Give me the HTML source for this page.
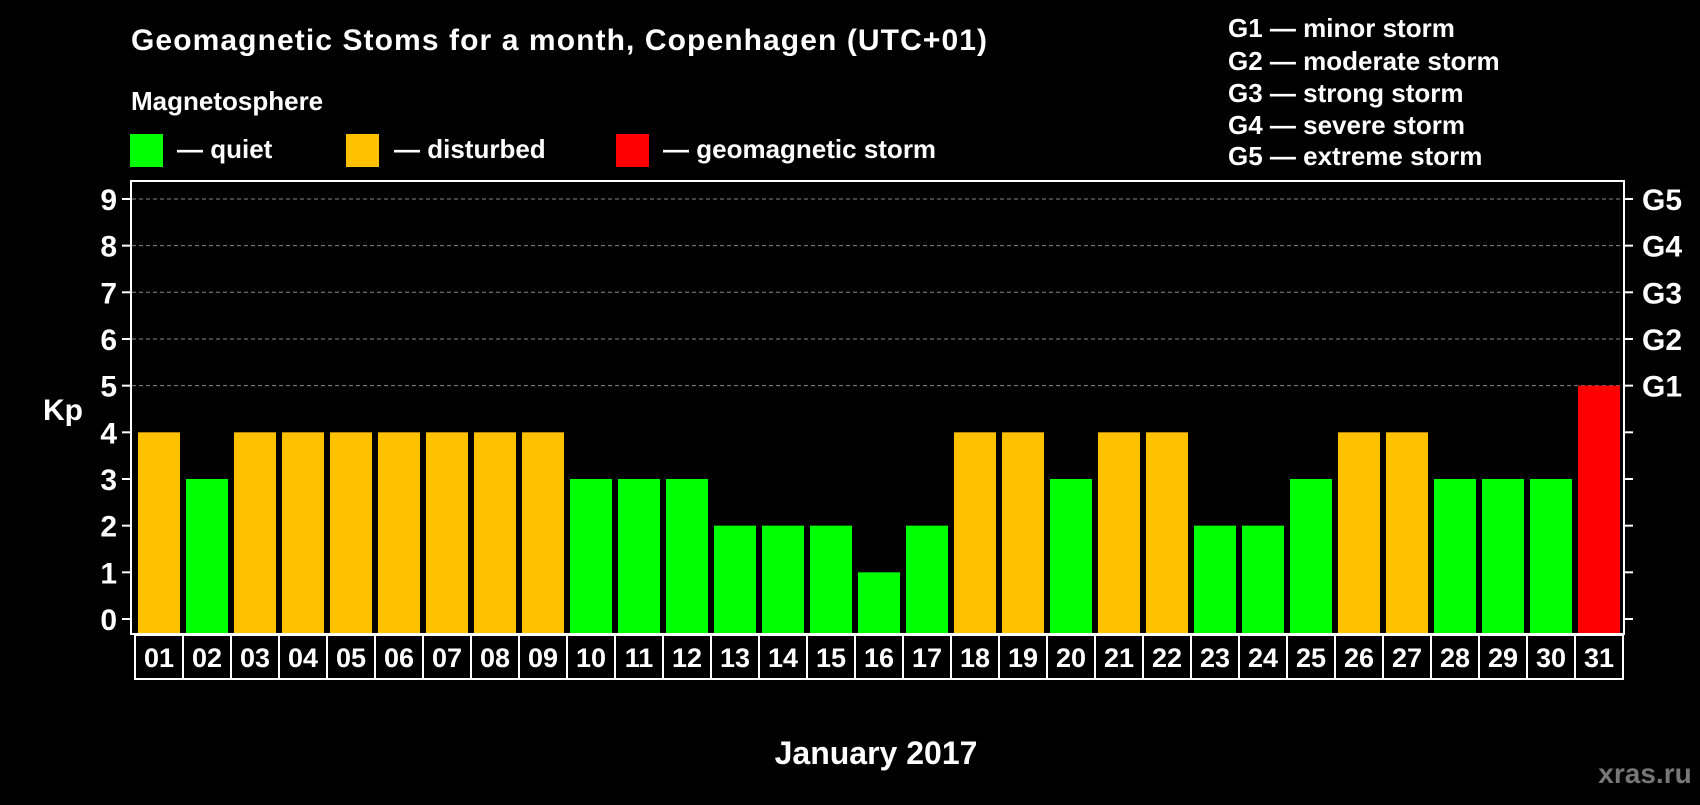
<!DOCTYPE html>
<html><head><meta charset="utf-8"><style>
body{margin:0;background:#000;width:1700px;height:800px;overflow:hidden;font-family:"Liberation Sans",sans-serif;font-weight:bold;color:#fff}
svg text{font-family:"Liberation Sans",sans-serif;font-weight:bold}
</style></head><body>
<svg width="1700" height="800">
<text x="131" y="50" font-size="30" fill="#fff" textLength="856">Geomagnetic Stoms for a month, Copenhagen (UTC+01)</text>
<text x="131" y="110" font-size="26" fill="#fff">Magnetosphere</text>
<rect x="130" y="134" width="33" height="33" fill="#00ff00"/>
<text x="177" y="158" font-size="26" fill="#fff">— quiet</text>
<rect x="346" y="134" width="33" height="33" fill="#ffc000"/>
<text x="394" y="158" font-size="26" fill="#fff">— disturbed</text>
<rect x="616" y="134" width="33" height="33" fill="#ff0000"/>
<text x="663" y="158" font-size="26" fill="#fff">— geomagnetic storm</text>
<g font-size="26" fill="#fff">
<text x="1228" y="37">G1 — minor storm</text>
<text x="1228" y="70">G2 — moderate storm</text>
<text x="1228" y="102">G3 — strong storm</text>
<text x="1228" y="134">G4 — severe storm</text>
<text x="1228" y="165">G5 — extreme storm</text>
</g>
<g id="grid"></g>
<g id="bars"></g>
<rect x="131" y="181" width="1493" height="453" fill="none" stroke="#fff" stroke-width="2"/>
<g id="axes"></g>
<text x="63" y="412" font-size="30" fill="#fff" text-anchor="middle" dominant-baseline="middle">Kp</text>
<text x="876" y="764" font-size="32" fill="#fff" text-anchor="middle">January 2017</text>
<text x="1645" y="783" font-size="28" fill="#777" text-anchor="middle">xras.ru</text>
</svg>
<script>
const days=["01","02","03","04","05","06","07","08","09","10","11","12","13","14","15","16","17","18","19","20","21","22","23","24","25","26","27","28","29","30","31"];
const kpValues=[4,3,4,4,4,4,4,4,4,3,3,3,2,2,2,1,2,4,4,3,4,4,2,2,3,4,4,3,3,3,5];
const yTicks=[0,1,2,3,4,5,6,7,8,9];
const gLabels=["G1","G2","G3","G4","G5"];
const NS="http://www.w3.org/2000/svg";
function y(v){return 619-v*46.67;}
function xc(i){return 159+i*48;}
function mk(t,a,p,txt){const e=document.createElementNS(NS,t);for(const k in a)e.setAttribute(k,a[k]);if(txt!=null)e.textContent=txt;p.appendChild(e);return e;}
const grid=document.getElementById('grid'),bars=document.getElementById('bars'),axes=document.getElementById('axes');
yTicks.forEach(v=>{
 if(v>=5){const l=mk('line',{x1:132,x2:1623,y1:y(v),y2:y(v),stroke:'#888','stroke-dasharray':'4,3','stroke-width':1},grid);
 
 }
 const t=mk('line',{x1:122,x2:131,y1:y(v),y2:y(v),stroke:'#fff','stroke-width':2},axes);
 
 
 const r=mk('line',{x1:1624,x2:1633,y1:y(v),y2:y(v),stroke:'#fff','stroke-width':2},axes);
 
 
 const tl=mk('text',{x:117,y:y(v)+11,'font-size':30,fill:'#fff','text-anchor':'end'},axes,String(v));
 
 
 if(v>=5){const g=mk('text',{x:1642,y:y(v)+11,'font-size':30,fill:'#fff'},axes,gLabels[v-5]);
 
 }
});
kpValues.forEach((v,i)=>{
 const col=v>=5?'#ff0000':(v>=4?'#ffc000':'#00ff00');
 const b=mk('rect',{x:xc(i)-21,y:y(v),width:42,height:633-y(v),fill:col},bars);
 
 
 const c=mk('rect',{x:xc(i)-24,y:635,width:48,height:44,fill:'none',stroke:'#fff','stroke-width':2},axes);
 
 
 const t=mk('text',{x:xc(i),y:667,'font-size':27,fill:'#fff','text-anchor':'middle'},axes,days[i]);
 
 
});
</script>
</body></html>
